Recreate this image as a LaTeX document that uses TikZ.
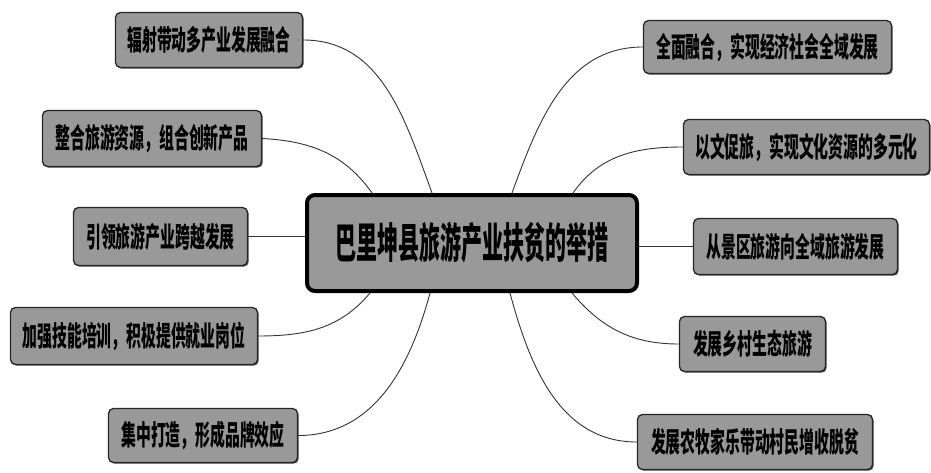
\documentclass[tikz,border=0pt]{standalone}
\usepackage{fontspec}
\usepackage{graphicx}
\newfontfamily\cjk{Noto Sans CJK SC}
\newcommand\sqz[1]{\scalebox{0.53}[1]{#1}}
\newcommand\sqzc[1]{\scalebox{0.5}[1]{#1}}
\usetikzlibrary{shadows}
\definecolor{boxfill}{gray}{0.6}
\tikzset{
  leaf/.style={draw=black!85, line width=1.3pt, rounded corners=5pt, fill=boxfill,
    inner sep=0pt, align=center, font=\cjk\bfseries\fontsize{28}{30}\selectfont,
    drop shadow={shadow xshift=1.2pt, shadow yshift=-1.2pt, fill=black!70, opacity=1}},
  hub/.style={draw=black, line width=4pt, rounded corners=8pt, fill=boxfill,
    inner sep=0pt, font=\cjk\bfseries\fontsize{42}{46}\selectfont},
  link/.style={draw=black!80, line width=0.9pt},
}
\begin{document}
\begin{tikzpicture}[x=1pt,y=1pt]
\fill[white] (0,0) rectangle (931,472);
\useasboundingbox (0,0) rectangle (931,472);

\node[hub, minimum width=330, minimum height=96] (C) at (472,229) {\sqzc{巴里坤县旅游产业扶贫的举措}};

\node[leaf, minimum width=187, minimum height=55] (L1) at (209,432) {\sqz{辐射带动多产业发展融合}};
\node[leaf, minimum width=219, minimum height=56] (L2) at (152,333.5) {\sqz{整合旅游资源，组合创新产品}};
\node[leaf, minimum width=174, minimum height=58] (L3) at (160.5,235.5) {\sqz{引领旅游产业跨越发展}};
\node[leaf, minimum width=247, minimum height=57] (L4) at (134,136) {\sqz{加强技能培训，积极提供就业岗位}};
\node[leaf, minimum width=189, minimum height=54] (L5) at (203,36.5) {\sqz{集中打造，形成品牌效应}};

\node[leaf, minimum width=248, minimum height=53] (R1) at (767.5,425) {\sqz{全面融合，实现经济社会全域发展}};
\node[leaf, minimum width=246, minimum height=55] (R2) at (806.5,325) {\sqz{以文促旅，实现文化资源的多元化}};
\node[leaf, minimum width=204, minimum height=56] (R3) at (795.5,225.5) {\sqz{从景区旅游向全域旅游发展}};
\node[leaf, minimum width=146, minimum height=55] (R4) at (752.5,128) {\sqz{发展乡村生态旅游}};
\node[leaf, minimum width=235, minimum height=55] (R5) at (755,30) {\sqz{发展农牧家乐带动村民增收脱贫}};

\coordinate (cL1) at (432,279);
\coordinate (cL2) at (372,279);
\coordinate (cR1) at (512,279);
\coordinate (cR2) at (573,279);
\coordinate (cL4) at (370,179);
\coordinate (cL5) at (430,179);
\coordinate (cR5) at (510,179);
\coordinate (cR4) at (572,179);

\draw[link] (L1.east) to[out=0,in=110] (cL1);
\draw[link] (L2.east) to[out=-3,in=125] (cL2);
\draw[link] (L3.east) -- (L3.east -| C.west);
\draw[link] (L4.east) to[out=0,in=-130] (cL4);
\draw[link] (L5.east) to[out=0,in=-105] (cL5);
\draw[link] (R1.west) to[out=180,in=70] (cR1);
\draw[link] (R2.west) to[out=180,in=55] (cR2);
\draw[link] (R3.west) -- (R3.west -| C.east);
\draw[link] (R4.west) to[out=180,in=-50] (cR4);
\draw[link] (R5.west) to[out=180,in=-75] (cR5);
\end{tikzpicture}
\end{document}
